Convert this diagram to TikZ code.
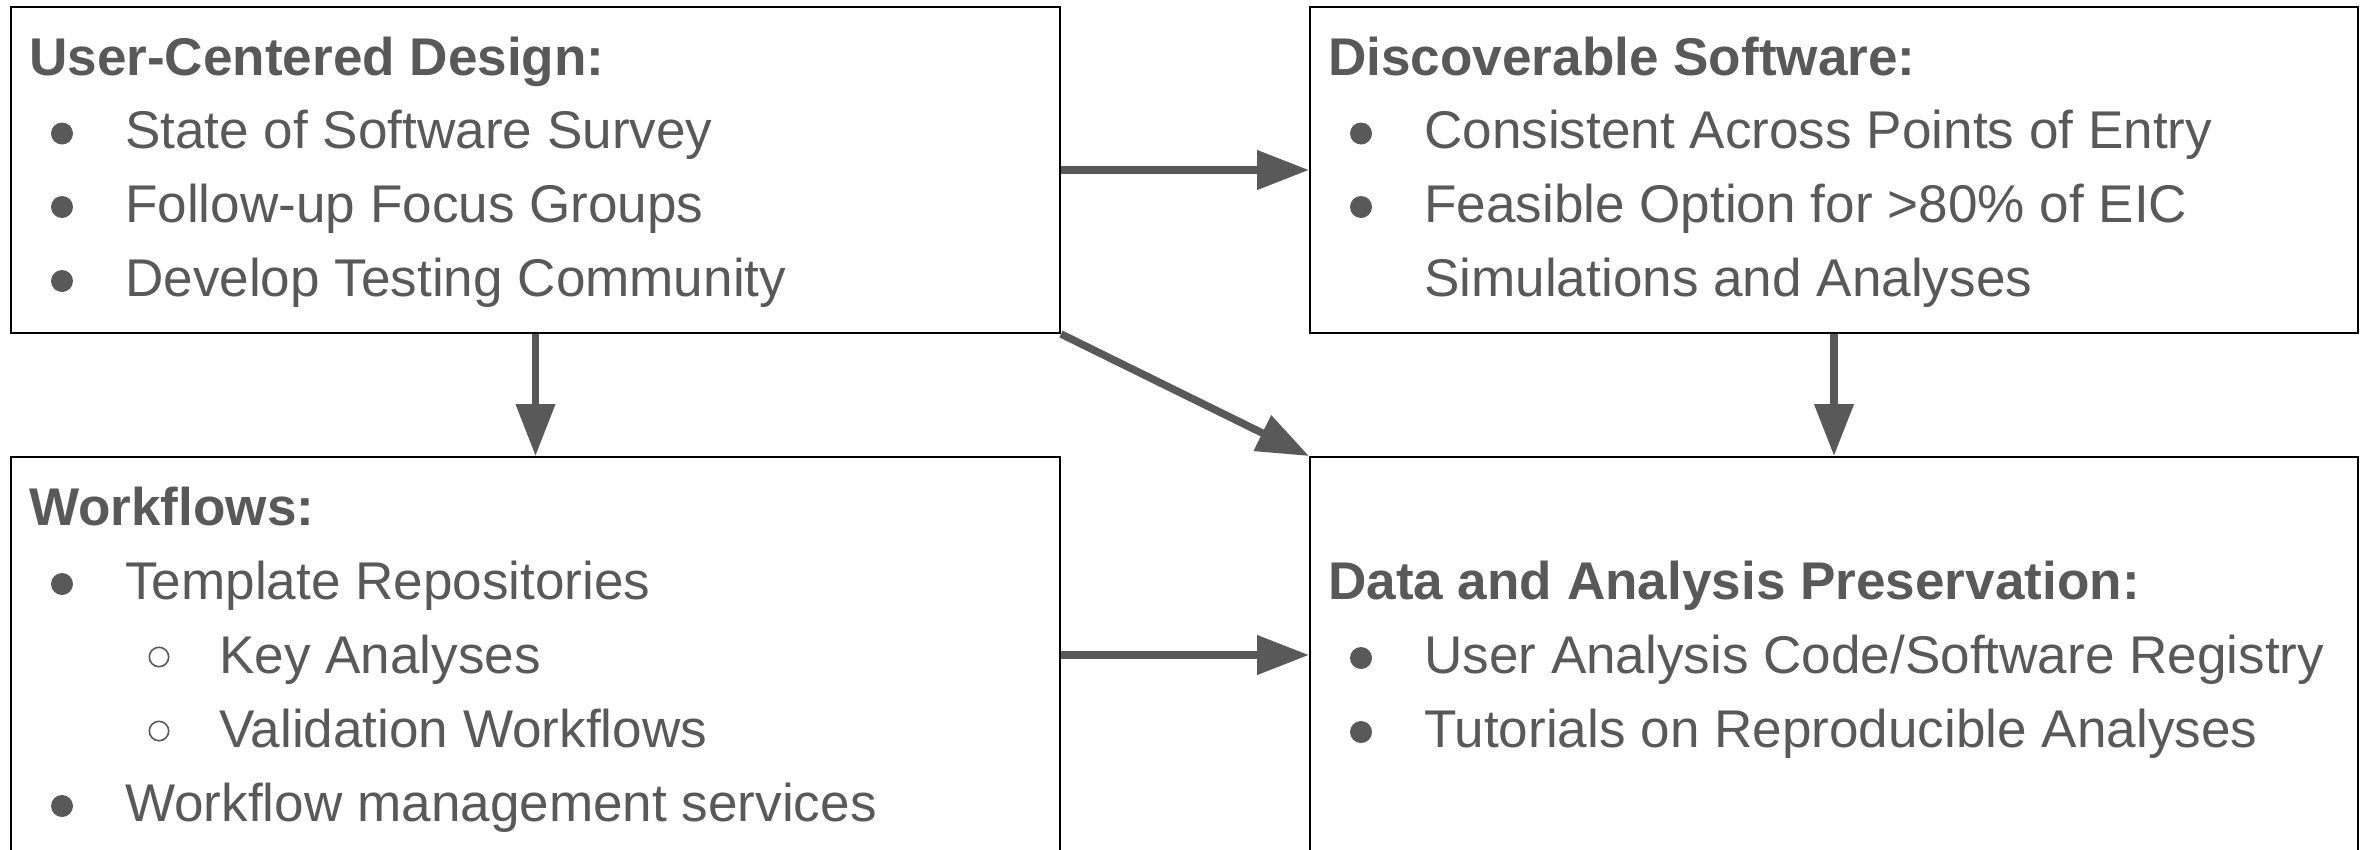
\documentclass[tikz,border=0pt]{standalone}
\usepackage{fontspec}
\setmainfont{Liberation Sans}
\usetikzlibrary{arrows.meta}
\definecolor{ink}{HTML}{595959}
\begin{document}
\begin{tikzpicture}[x=1pt,y=-1pt,
  panel/.style={draw=black, line width=2pt, rectangle, inner sep=0pt, anchor=north west},
  head/.style={anchor=base west, inner sep=0pt, text=ink, font=\fontsize{53.1}{74}\selectfont\bfseries},
  item/.style={anchor=base west, inner sep=0pt, text=ink, font=\fontsize{53.1}{74}\selectfont},
  dot/.style={fill=ink},
  ring/.style={draw=ink, line width=1.6pt},
  link/.style={draw=ink, line width=7.5pt, -{Triangle[length=52pt,width=38pt]}}
]
\useasboundingbox (0,0) rectangle (2367,849);

% panels
\node[panel, minimum width=1049pt, minimum height=326pt] (ucd)  at (10,6) {};
\node[panel, minimum width=1048pt, minimum height=326pt] (disc) at (1309,6) {};
\node[panel, minimum width=1049pt, minimum height=396pt] (wf)   at (10,456) {};
\node[panel, minimum width=1048pt, minimum height=396pt] (dap)  at (1309,456) {};

% User-Centered Design
\node[head] (ucdT) at (29,75) {User-Centered Design:};
\node[item] (ucd1) at (125,148.5) {State of Software Survey};
\node[item] (ucd2) at (125,222) {Follow-up Focus Groups};
\node[item] (ucd3) at (125,296) {Develop Testing Community};
\fill[dot] (62,133.5) circle[radius=11];
\fill[dot] (62,207) circle[radius=11];
\fill[dot] (62,281) circle[radius=11];

% Discoverable Software
\node[head] (discT) at (1328,75) {Discoverable Software:};
\node[item] (disc1) at (1424,148.5) {Consistent Across Points of Entry};
\node[item] (disc2) at (1424,222) {Feasible Option for >80\% of EIC};
\node[item] (disc3) at (1424,296) {Simulations and Analyses};
\fill[dot] (1361,133.5) circle[radius=11];
\fill[dot] (1361,207) circle[radius=11];

% Workflows
\node[head] (wfT) at (29,525) {Workflows:};
\node[item] (wf1) at (125,599) {Template Repositories};
\node[item] (wf2) at (219,673) {Key Analyses};
\node[item] (wf3) at (219,747) {Validation Workflows};
\node[item] (wf4) at (125,821) {Workflow management services};
\fill[dot] (62,584) circle[radius=11];
\draw[ring] (159,657) circle[radius=9.7];
\draw[ring] (159,731) circle[radius=9.7];
\fill[dot] (62,806) circle[radius=11];

% Data and Analysis Preservation
\node[head] (dapT) at (1328,599) {Data and Analysis Preservation:};
\node[item] (dap1) at (1424,673) {User Analysis Code/Software Registry};
\node[item] (dap2) at (1424,747) {Tutorials on Reproducible Analyses};
\fill[dot] (1361,658) circle[radius=11];
\fill[dot] (1361,732) circle[radius=11];

% connectors
\draw[link] (ucd.east) -- (disc.west);
\draw[link] (ucd.south) -- (wf.north);
\draw[link] (disc.south) -- (dap.north);
\draw[link] (wf.east) -- (dap.west);
\draw[link] (ucd.south east) -- (dap.north west);
\end{tikzpicture}
\end{document}
